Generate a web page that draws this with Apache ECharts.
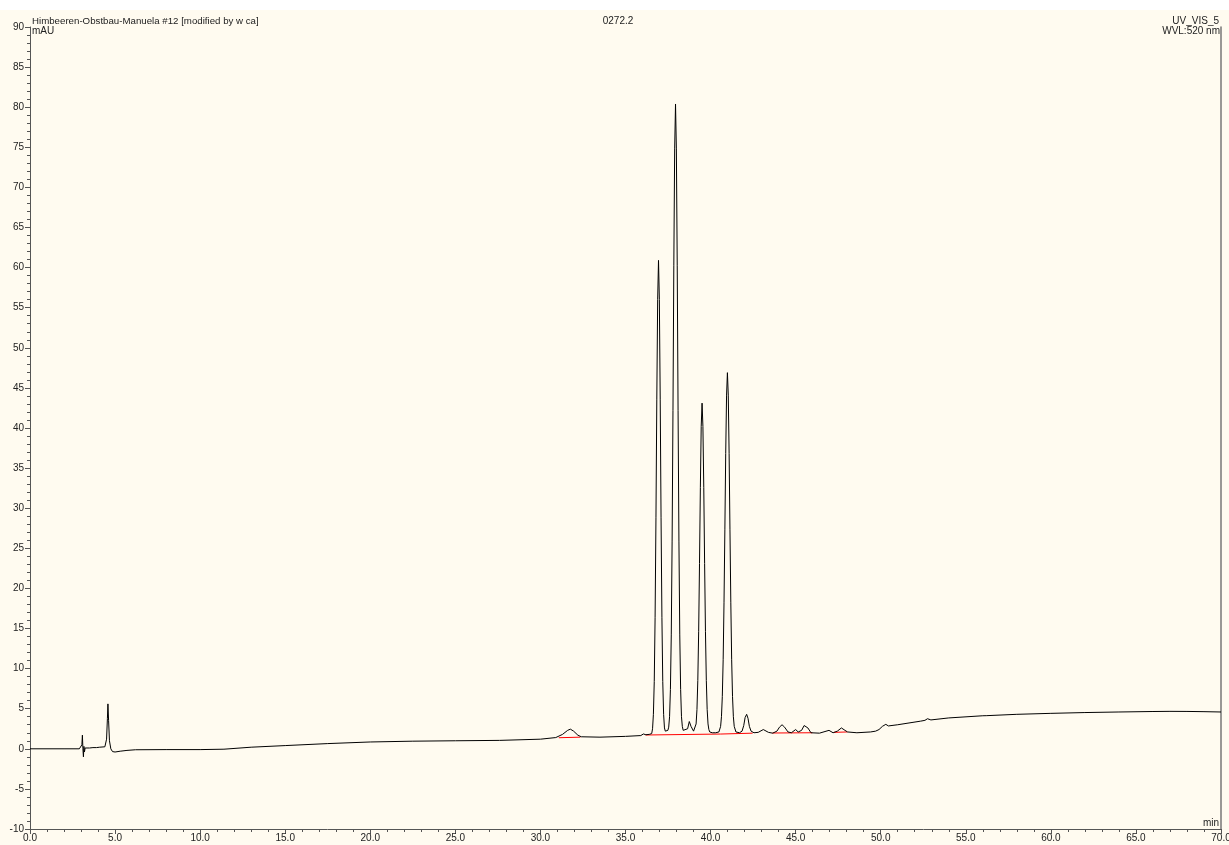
<!DOCTYPE html>
<html>
<head>
<meta charset="utf-8">
<script src="https://cdn.jsdelivr.net/npm/echarts@6/dist/echarts.min.js"></script>
<style>
html,body{margin:0;padding:0;background:#ffffff;}
#chart{width:1229px;height:845px;}
</style>
</head>
<body>
<div id="chart"></div>
<script>
// ---- data ----
const titleLeft = "Himbeeren-Obstbau-Manuela #12 [modified by w ca]";
const titleCenter = "0272.2";
const titleRight1 = "UV_VIS_5";
const titleRight2 = "WVL:520 nm";
const yUnit = "mAU";
const xUnit = "min";

const xRange = [0, 70];
const yRange = [-10, 90];
const tickStep = 5;

// chromatogram trace: [time (min), signal (mAU)]
const trace = [
[0.0,0.0],[1.0,0.0],[2.0,0.0],[2.9,0.0],[3.0,0.05],[3.05,0.5],[3.08,1.7],[3.11,0.0],[3.14,-1.0],[3.17,0.3],[3.2,-0.4],[3.24,0.1],[3.35,0.05],[3.5,0.1],[3.7,0.15],[3.8,0.35],[3.9,0.15],[4.1,0.2],[4.4,0.25],[4.5,1.2],[4.55,3.8],[4.58,5.6],[4.62,3.5],[4.67,1.0],[4.75,0.0],[4.85,-0.35],[5.0,-0.4],[5.3,-0.3],[5.7,-0.2],[6.2,-0.12],[8.0,-0.1],[10.0,-0.1],[11.4,-0.05],[11.5,0.05],[13.0,0.2],[15.0,0.4],[17.5,0.65],[20.0,0.85],[22.5,0.95],[25.0,1.0],[27.6,1.05],[30.0,1.2],[30.9,1.4],[31.3,1.8],[31.6,2.3],[31.76,2.45],[31.95,2.2],[32.2,1.7],[32.4,1.5],[33.5,1.45],[35.0,1.55],[35.9,1.65],[36.05,1.85],[36.2,1.75],[36.4,1.8],
[36.54,1.9],[36.59,2.5],[36.64,4.3],[36.69,8.4],[36.74,16.4],[36.79,28.8],[36.84,43.6],[36.89,56.0],[36.94,60.9],[36.99,56.0],[37.04,43.6],[37.09,28.8],[37.14,16.4],[37.19,8.4],[37.24,4.3],[37.29,2.6],[37.34,2.2],[37.39,2.2],[37.44,2.2],[37.49,2.3],
[37.54,2.7],[37.59,4.0],[37.64,7.4],[37.69,14.2],[37.74,25.9],[37.79,42.2],[37.84,60.3],[37.89,74.8],[37.94,80.4],[37.99,74.8],[38.04,60.3],[38.09,42.2],[38.14,25.9],[38.19,14.2],[38.24,7.4],[38.29,4.0],[38.34,2.8],[38.39,2.3],[38.5,2.1],[38.65,2.5],[38.75,3.4],[38.85,2.8],[39.0,2.2],
[39.1,2.4],[39.15,3.1],[39.2,4.9],[39.25,8.5],[39.3,14.6],[39.35,23.1],[39.4,32.6],[39.45,40.2],[39.5,43.1],[39.55,40.2],[39.6,32.6],[39.65,23.1],[39.7,14.6],[39.75,8.5],[39.8,4.9],[39.85,3.1],[39.9,2.4],[39.95,2.1],[40.1,2.0],[40.3,2.0],
[40.49,2.1],[40.59,2.8],[40.64,4.0],[40.69,6.5],[40.74,11.1],[40.79,18.2],[40.84,27.3],[40.89,36.8],[40.94,44.1],[40.99,46.9],[41.04,44.1],[41.09,36.8],[41.14,27.3],[41.19,18.2],[41.24,11.1],[41.29,6.5],[41.34,4.0],[41.39,2.8],[41.49,2.1],[41.7,2.0],
[41.85,2.2],[41.95,2.9],[42.03,3.9],[42.12,4.3],[42.2,3.8],[42.28,2.8],[42.38,2.2],[42.55,2.0],[42.8,2.05],[43.1,2.4],[43.4,2.05],[43.65,1.95],[43.9,2.2],[44.05,2.7],[44.2,3.0],[44.35,2.7],[44.55,2.1],[44.75,2.0],[45.0,2.4],[45.15,2.1],[45.35,2.3],[45.5,2.9],[45.6,3.1],[45.72,2.6],[45.9,2.0],[46.4,1.95],[46.96,2.3],[47.2,2.0],[47.45,2.2],[47.69,2.6],[47.9,2.3],[48.05,2.1],[48.6,2.0],[49.4,2.1],[49.7,2.2],[49.9,2.4],[50.1,2.8],[50.3,3.05],[50.45,2.85],[51.0,3.0],[52.35,3.45],[52.6,3.55],[52.75,3.75],[52.95,3.6],[54.0,3.85],[56.0,4.12],[56.1,4.18],[56.2,4.13],[58.0,4.3],[60.0,4.42],[62.0,4.52],[64.0,4.59],[66.0,4.65],[67.0,4.67],[68.0,4.66],[69.0,4.63],[70.0,4.59]
];

// integration baselines (red): each is [start, end] as [time, mAU]
const baseline1 = [[31.08,1.38],[32.35,1.45]];
const baseline2 = [[36.18,1.72],[40.6,1.84],[42.47,1.95]];
const baseline3 = [[43.63,1.97],[45.98,2.0]];
const baseline4 = [[47.25,2.05],[48.04,2.1]];

// ---- chart ----
const FONT = "'Liberation Sans', Arial, sans-serif";
const TXT = '#222';
const AX = '#555';
const chart = echarts.init(document.getElementById('chart'), null, {renderer: 'canvas'});

function redLine(data) {
  return {
    type: 'line', data: data, showSymbol: false, symbol: 'none', silent: true,
    lineStyle: {color: '#ff0000', width: 1}, z: 2, animation: false
  };
}

chart.setOption({
  animation: false,
  backgroundColor: '#FFFBF0',
  grid: {left: 30, right: 8, top: 27, bottom: 16, containLabel: false, outerBoundsMode: 'none'},
  xAxis: {
    type: 'value', min: xRange[0], max: xRange[1], interval: tickStep,
    axisLine: {show: true, onZero: false, lineStyle: {color: AX, width: 1}},
    axisTick: {show: true, length: 5, lineStyle: {color: AX}},
    minorTick: {show: true, splitNumber: 5, length: 3, lineStyle: {color: AX}},
    splitLine: {show: false},
    axisLabel: {formatter: v => v.toFixed(1), fontSize: 10, color: TXT, margin: 4, fontFamily: FONT, showMaxLabel: true, showMinLabel: true, hideOverlap: false}
  },
  yAxis: [{
    type: 'value', min: yRange[0], max: yRange[1], interval: tickStep, position: 'left',
    axisLine: {show: true, onZero: false, lineStyle: {color: AX, width: 1}},
    axisTick: {show: true, length: 5, lineStyle: {color: AX}},
    minorTick: {show: true, splitNumber: 5, length: 3, lineStyle: {color: AX}},
    splitLine: {show: false},
    axisLabel: {fontSize: 10, color: TXT, margin: 6, fontFamily: FONT}
  }, {
    type: 'value', min: yRange[0], max: yRange[1], interval: tickStep, position: 'right',
    axisLine: {show: true, onZero: false, lineStyle: {color: '#777', width: 1.5}},
    axisTick: {show: false}, axisLabel: {show: false}, splitLine: {show: false}
  }],
  graphic: [
    {type: 'rect', shape: {x: 0, y: 0, width: 1229, height: 10}, style: {fill: '#ffffff'}, silent: true},
    {type: 'text', x: 32, y: 21, style: {text: titleLeft, font: '9.7px ' + FONT, fill: TXT, textVerticalAlign: 'middle', textAlign: 'left'}},
    {type: 'text', x: 32, y: 31, style: {text: yUnit, font: '10px ' + FONT, fill: TXT, textVerticalAlign: 'middle', textAlign: 'left'}},
    {type: 'text', x: 618, y: 21, style: {text: titleCenter, font: '10px ' + FONT, fill: TXT, textVerticalAlign: 'middle', textAlign: 'center'}},
    {type: 'text', x: 1219, y: 21, style: {text: titleRight1, font: '10px ' + FONT, fill: TXT, textVerticalAlign: 'middle', textAlign: 'right'}},
    {type: 'text', x: 1220, y: 31, style: {text: titleRight2, font: '10px ' + FONT, fill: TXT, textVerticalAlign: 'middle', textAlign: 'right'}},
    {type: 'text', x: 1219, y: 823, style: {text: xUnit, font: '10px ' + FONT, fill: TXT, textVerticalAlign: 'middle', textAlign: 'right'}}
  ],
  series: [
    {type: 'line', data: trace, showSymbol: false, symbol: 'none', silent: true,
     lineStyle: {color: '#000000', width: 1}, z: 3},
    redLine(baseline1), redLine(baseline2), redLine(baseline3), redLine(baseline4)
  ]
});
</script>
</body>
</html>
